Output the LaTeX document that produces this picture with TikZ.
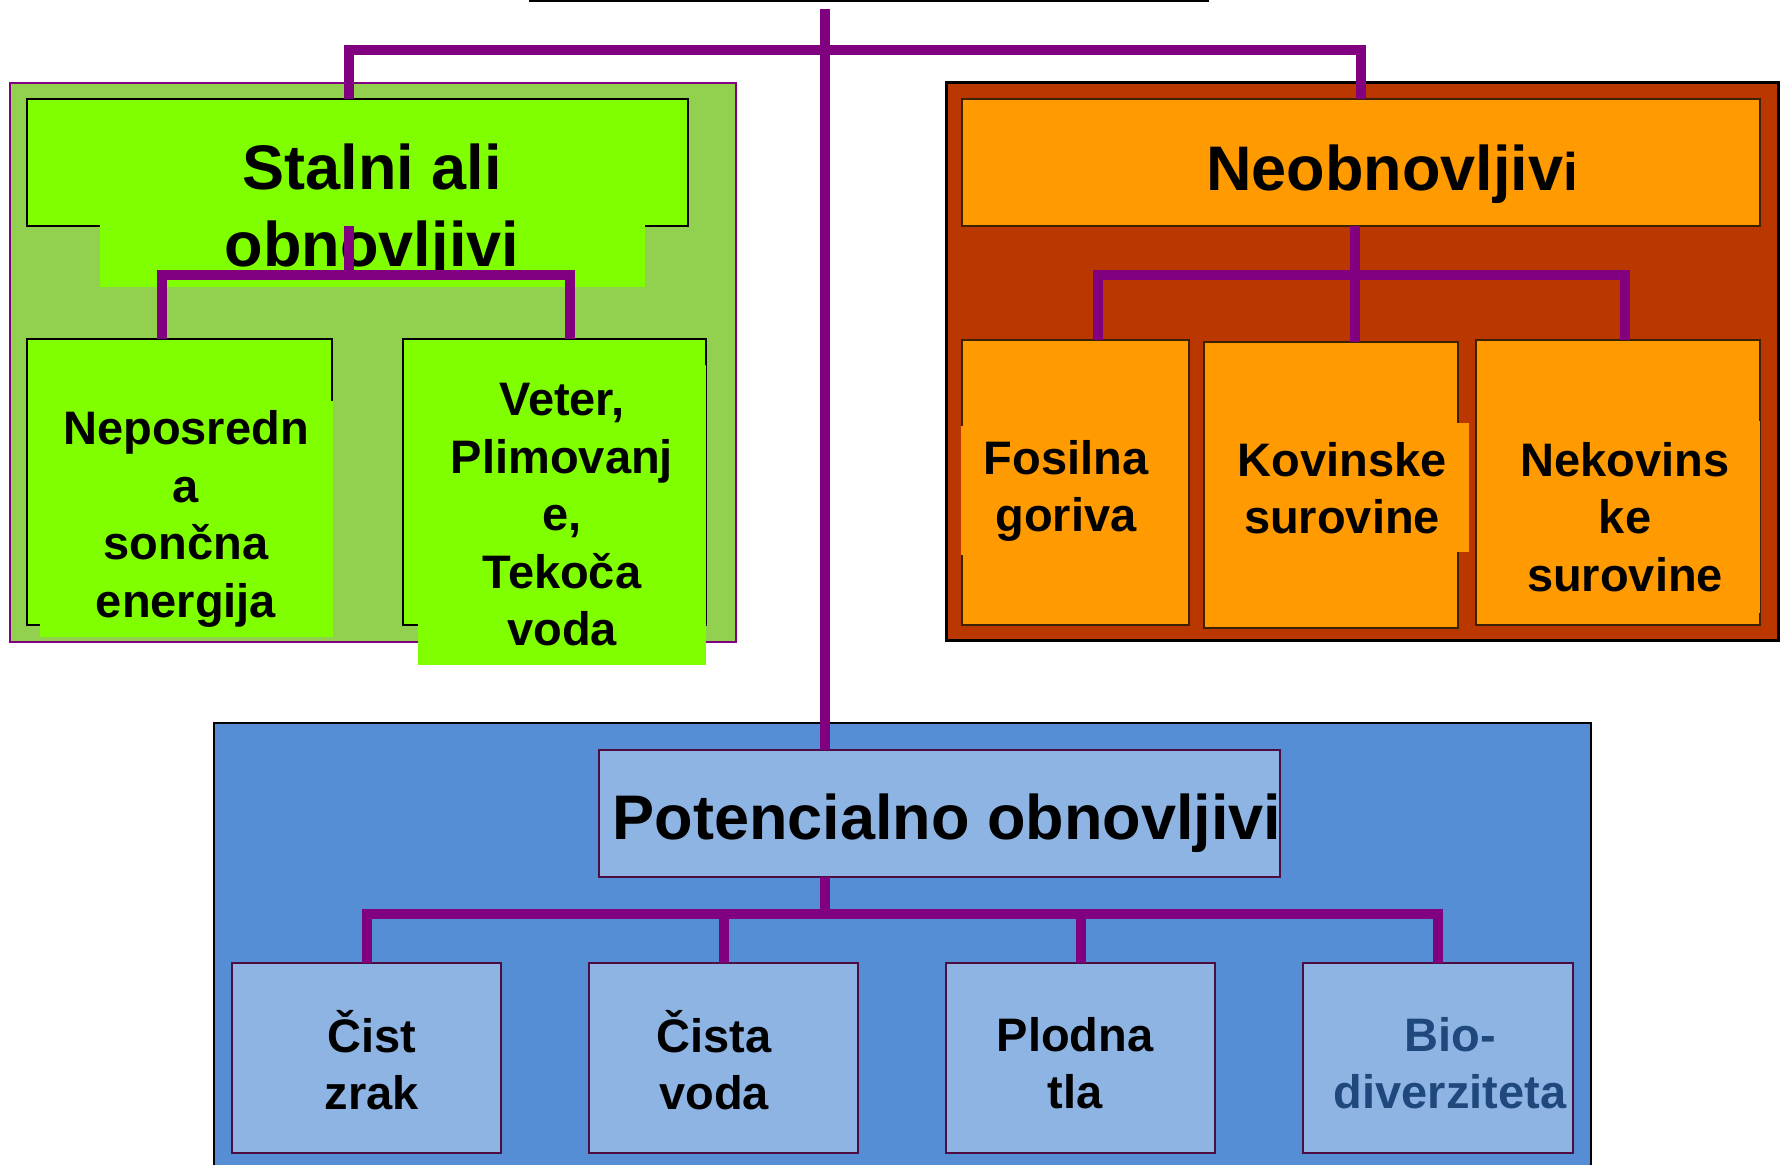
\documentclass[tikz,border=0pt]{standalone}
\usepackage{fontspec}
\setmainfont{Liberation Sans}
\usepackage{tikz}
\definecolor{grassgreen}{HTML}{92D050}
\definecolor{leafgreen}{HTML}{80FF00}
\definecolor{rust}{HTML}{BB3700}
\definecolor{amber}{HTML}{FF9A00}
\definecolor{darkbrown}{HTML}{3D2000}
\definecolor{midblue}{HTML}{558ED5}
\definecolor{paleblue}{HTML}{8EB4E3}
\definecolor{plum}{HTML}{4D0D40}
\definecolor{barpurple}{HTML}{800080}
\definecolor{bioblue}{HTML}{1F497D}
\tikzset{%
  panel/.style    = {shape=rectangle, draw, inner sep=0pt, outer sep=0pt},%
  headbox/.style  = {panel, line width=1.25pt, minimum height=63.5pt},%
  leafbox/.style  = {panel, line width=1.25pt},%
  patch/.style    = {inner sep=0pt, outer sep=0pt, align=center,%
                     font=\bfseries\fontsize{23.5}{28.75}\selectfont},%
  headtext/.style = {patch, font=\bfseries\fontsize{31.5}{38.5}\selectfont},%
  bluebox/.style  = {leafbox, fill=paleblue, draw=plum,%
                     minimum width=134.5pt, minimum height=95pt},%
  conn/.style     = {draw=barpurple, line width=5pt}%
}
\begin{document}
\begin{tikzpicture}[x=0.5pt,y=-0.5pt]
	\useasboundingbox (0,0) rectangle (1785,1165);
	% panels
	\node[panel, fill=grassgreen, draw=barpurple, line width=1pt,
	      minimum width=363pt, minimum height=279.5pt] (gpanel) at (373,362.5) {};
	\node[panel, fill=rust, line width=1.5pt,
	      minimum width=416pt, minimum height=279pt] (opanel) at (1362,362) {};
	\node[panel, fill=midblue, line width=1.25pt,
	      minimum width=688.5pt, minimum height=228.5pt] (bpanel) at (902.5,951.5) {};
	\draw[line width=1.5pt] (529,1) -- (1209,1);
	% heads
	\node[headbox, fill=leafgreen, minimum width=330.5pt] (sta) at (357.5,162.5) {};
	\node[headbox, fill=amber, draw=darkbrown, minimum width=399pt] (neo) at (1361,162.5) {};
	\node[headbox, fill=paleblue, draw=plum, minimum width=340.5pt] (pot) at (939.5,813.5) {};
	\node[headtext, fill=leafgreen, minimum width=272.5pt, minimum height=75pt] (statxt)
		at (372,212) {Stalni ali\\obnovljivi};
	\node[headtext] (neotxt) at (1392,174) {Neobnovljiv{\fontsize{26.5}{30}\selectfont i}};
	\node[headtext] (pottxt) at (947,823) {Potencialno obnovljivi};
	% green leaves
	\node[leafbox, fill=leafgreen, minimum width=152.5pt, minimum height=143pt] (nep) at (179.5,482) {};
	\node[leafbox, fill=leafgreen, minimum width=151.5pt, minimum height=143pt] (vet) at (554.5,482) {};
	\node[patch, fill=leafgreen, minimum width=146.5pt, minimum height=118pt] (neptxt)
		at (186,519) {Neposredn\\a\\sončna\\energija};
	\node[patch, fill=leafgreen, minimum width=144pt, minimum height=150pt] (vettxt)
		at (562,515) {Veter,\\Plimovanj\\e,\\Tekoča\\voda};
	% orange leaves
	\node[leafbox, fill=amber, draw=darkbrown, minimum width=113.5pt, minimum height=142.5pt] (fos) at (1075.5,482.5) {};
	\node[leafbox, fill=amber, draw=darkbrown, minimum width=127pt, minimum height=143pt] (kov) at (1331,485) {};
	\node[leafbox, fill=amber, draw=darkbrown, minimum width=142pt, minimum height=142.5pt] (nek) at (1618,482.5) {};
	\node[patch, fill=amber, minimum width=105pt, minimum height=64.5pt] (fostxt)
		at (1066,491) {Fosilna\\goriva};
	\node[patch, fill=amber, minimum width=127pt, minimum height=64.5pt] (kovtxt)
		at (1342,488) {Kovinske\\surovine};
	\node[patch, fill=amber, minimum width=135pt, minimum height=96pt] (nektxt)
		at (1625,517) {Nekovins\\ke\\surovine};
	% blue leaves
	\node[bluebox] (cz) at (366.5,1058) {};
	\node[bluebox] (cv) at (723.5,1058) {};
	\node[bluebox] (pt) at (1080.5,1058) {};
	\node[bluebox, minimum width=135pt] (bd) at (1438,1058) {};
	\node[patch] (cztxt) at (372,1060) {Čist\\zrak};
	\node[patch] (cvtxt) at (714,1060) {Čista\\voda};
	\node[patch] (pttxt) at (1075,1063) {Plodna\\tla};
	\node[patch, text=bioblue] (bdtxt) at (1450,1063) {Bio-\\diverziteta};
	% connectors
	\coordinate (root) at (825,9);
	\coordinate (tj) at (825,50);
	\coordinate (gj) at (349,275);
	\coordinate (oj) at (1355,275);
	\coordinate (bj) at (825,914);
	\draw[conn] (root) -- (root |- pot.north);
	\draw[conn] ([xshift=-4.25pt]sta.north) |- (tj) -| (neo.north);
	\draw[conn] ([xshift=-4.25pt]sta.south) -- (gj);
	\draw[conn] ([xshift=-8.75pt]nep.north) |- (gj) -| ([xshift=7.75pt]vet.north);
	\draw[conn] ([xshift=-3pt]neo.south) -- ([xshift=12pt]kov.north);
	\draw[conn] ([xshift=11.25pt]fos.north) |- (oj) -| ([xshift=3.5pt]nek.north);
	\draw[conn] ([xshift=-57.25pt]pot.south) -- (bj);
	\draw[conn] (cz.north) |- (bj) -| (bd.north);
	\draw[conn] (cv.north) -- (cv.north |- bj);
	\draw[conn] (pt.north) -- (pt.north |- bj);
\end{tikzpicture}
\end{document}
